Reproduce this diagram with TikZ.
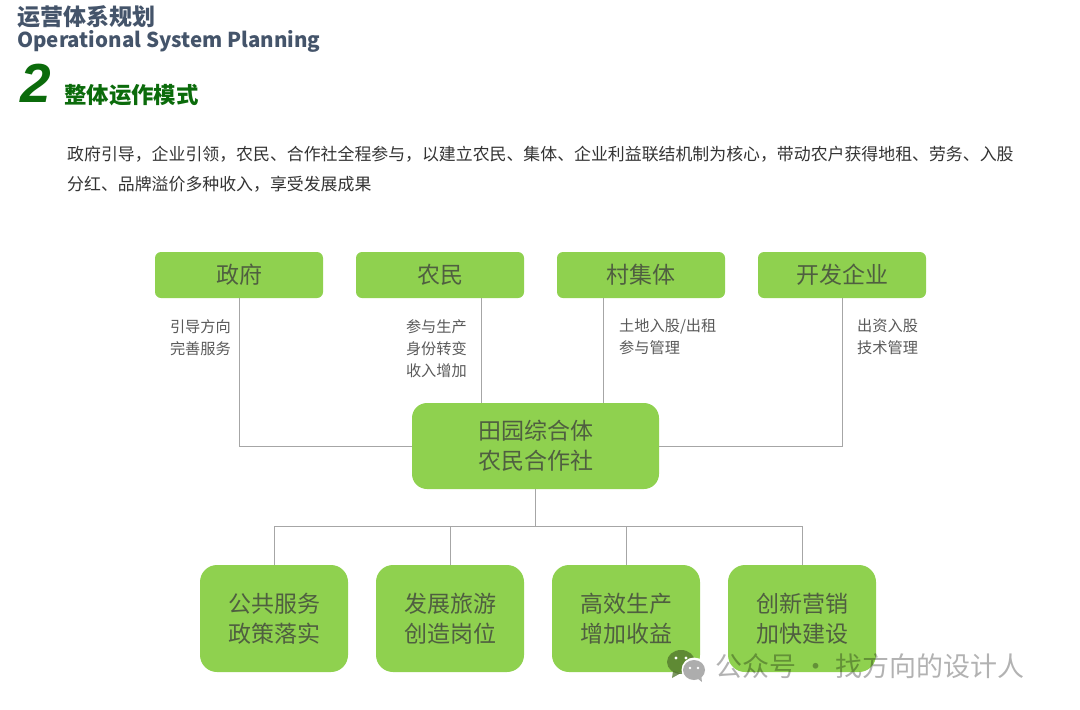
\documentclass[tikz,border=0pt]{standalone}
\usepackage{fontspec}
\setmainfont{Noto Sans CJK SC}
\newfontfamily\digitfont{Liberation Sans}
\usetikzlibrary{positioning,calc}
\definecolor{boxgreen}{HTML}{8FD14F}
\definecolor{titleblue}{HTML}{44546A}
\definecolor{deepgreen}{HTML}{0B6B0B}
\definecolor{boxtext}{HTML}{4F5F40}
\definecolor{notetext}{HTML}{595959}
\definecolor{linkgray}{HTML}{A6A6A6}
\tikzset{
  topbox/.style={fill=boxgreen,rounded corners=6pt,minimum width=168pt,minimum height=46pt,inner sep=0pt,font=\fontsize{23}{27}\selectfont,text=boxtext},
  hubbox/.style={fill=boxgreen,rounded corners=15pt,minimum width=247pt,minimum height=86pt,inner sep=0pt,align=center,font=\fontsize{23}{30}\selectfont,text=boxtext},
  lowbox/.style={fill=boxgreen,rounded corners=17pt,minimum width=148pt,minimum height=107pt,inner sep=0pt,align=center,font=\fontsize{23}{30}\selectfont,text=boxtext},
  note/.style={font=\fontsize{15.2}{22}\selectfont,text=notetext,align=left,inner sep=0pt},
  link/.style={draw=linkgray,line width=1pt},
}
\begin{document}
\begin{tikzpicture}[x=1pt,y=-1pt]
  \useasboundingbox (0,0) rectangle (1080,710);
  % Header
  \node[anchor=west,inner sep=0pt,font=\fontsize{23}{27}\selectfont\bfseries,text=titleblue] (title) at (17,17) {运营体系规划};
  \node[anchor=west,inner sep=0pt,font=\fontsize{20.5}{24}\selectfont\bfseries,text=titleblue] (subtitle) at (17,41) {Operational System Planning};
  \node[anchor=west,inner sep=0pt,font=\digitfont\fontsize{55}{60}\selectfont\bfseries\itshape,text=deepgreen] (num) at (20,83) {2};
  \node[anchor=west,inner sep=0pt,font=\fontsize{22.4}{27}\selectfont\bfseries,text=deepgreen] (head) at (64,95) {整体运作模式};
  \node[anchor=north west,inner sep=0pt,align=left,font=\fontsize{16.9}{30}\selectfont,text=black!80] (intro) at (67,146) {政府引导，企业引领，农民、合作社全程参与，以建立农民、集体、企业利益联结机制为核心，带动农户获得地租、劳务、入股\\分红、品牌溢价多种收入，享受发展成果};

  % Top row
  \node[topbox] (gov) at (239,275) {政府};
  \node[topbox] (farmer) at (440,275) {农民};
  \node[topbox] (village) at (641,275) {村集体};
  \node[topbox] (dev) at (842,275) {开发企业};

  % Centre
  \node[hubbox] (hub) at (535.5,446) {田园综合体\\农民合作社};

  % Bottom row
  \node[lowbox] (service) at (274,618.5) {公共服务\\政策落实};
  \node[lowbox] (tourism) at (450,618.5) {发展旅游\\创造岗位};
  \node[lowbox] (output) at (626,618.5) {高效生产\\增加收益};
  \node[lowbox] (market) at (802,618.5) {创新营销\\加快建设};

  % Links
  \coordinate (bus) at (535,526);
  \draw[link] (gov.south) |- (hub.west);
  \draw[link] (dev.south) |- (hub.east);
  \draw[link] ([xshift=41pt]farmer.south) -- ([xshift=41pt]farmer.south |- hub.north);
  \draw[link] ([xshift=-38pt]village.south) -- ([xshift=-38pt]village.south |- hub.north);
  \draw[link] (hub.south -| bus) -- (bus);
  \draw[link] (service.north) |- (bus);
  \draw[link] (market.north) |- (bus);
  \draw[link] (tourism.north) -- (tourism.north |- bus);
  \draw[link] (output.north) -- (output.north |- bus);

  % Notes
  \node[note,anchor=north east] (govnote) at (231,319) {引导方向\\完善服务};
  \node[note,anchor=north east] (farmernote) at (467,319) {参与生产\\身份转变\\收入增加};
  \node[note,anchor=north west] (villagenote) at (619,319) {土地入股/出租\\参与管理};
  \node[note,anchor=north west] (devnote) at (857,319) {出资入股\\技术管理};

  % Watermark
  \fill[black!45!boxgreen,opacity=.75] (681,662) ellipse (14pt and 12pt);
  \fill[black!45!boxgreen,opacity=.75] (673,671) -- (672,678) -- (681,673) -- cycle;
  \fill[white] (694,670) circle (12.5pt);
  \fill[black!32] (694,670) ellipse (11pt and 10pt);
  \fill[black!32] (697,678) -- (702,682) -- (701,674) -- cycle;
  \fill[white] (676,658) circle (1.7pt) (686,658) circle (1.7pt);
  \fill[white] (690,668) circle (1.3pt) (698,668) circle (1.3pt);
  \node[anchor=west,inner sep=0pt,font=\fontsize{27}{30}\selectfont,text=black,opacity=.3] (mark) at (715,666) {公众号 · 找方向的设计人};
\end{tikzpicture}
\end{document}
